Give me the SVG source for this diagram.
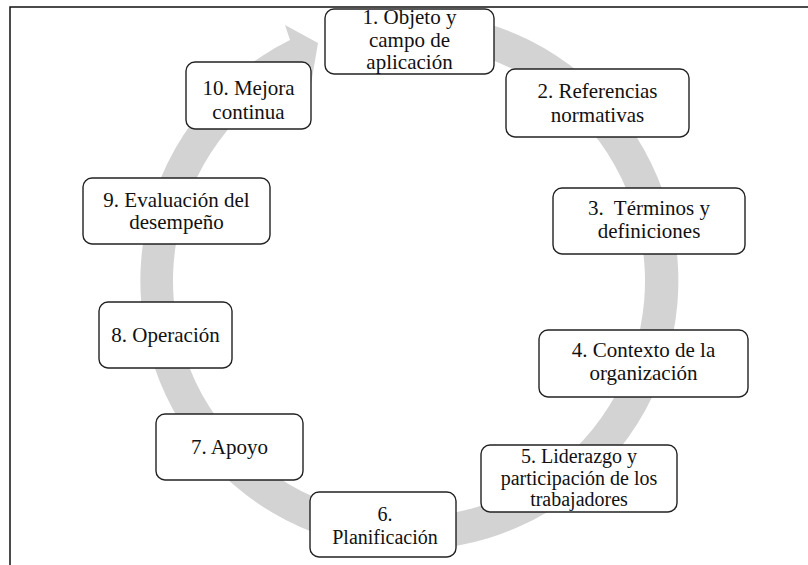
<svg xmlns="http://www.w3.org/2000/svg" width="808" height="565" viewBox="0 0 808 565">
<style>
.box{fill:#fff;stroke:#222;stroke-width:1.4}
text{font-family:'Liberation Serif','Tinos','DejaVu Serif',serif;font-size:21px;fill:#111;text-anchor:middle}
.s{font-size:20px}
.frame{stroke:#111;stroke-width:1.5;fill:none}
</style>
<rect width="808" height="565" fill="#fff"/>
<path class="frame" d="M10,565 V7 H808"/>
<g id="connectors">
<path d="M437.1,13.5 A269,269 0 1 1 290,40 L285,25 L318,43 L311.2,82.9 L304.5,69.4 A236,236 0 1 0 433.7,46.3 Z" fill="#d3d3d3"/>
</g>
<g id="n1"><rect class="box" x="325" y="9" width="169" height="65" rx="9"/>
<text x="409.5" y="24">1. Objeto y</text><text x="409.5" y="47">campo de</text><text x="409.5" y="69">aplicación</text></g>
<g id="n2"><rect class="box" x="506" y="69" width="183" height="68" rx="9"/>
<text x="597.5" y="98">2. Referencias</text><text x="597.5" y="122">normativas</text></g>
<g id="n3"><rect class="box" x="553" y="188" width="192" height="66" rx="9"/>
<text x="649" y="215" xml:space="preserve">3.  Términos y</text><text x="649" y="238">definiciones</text></g>
<g id="n4"><rect class="box" x="539" y="330" width="209" height="67" rx="9"/>
<text x="643.5" y="357">4. Contexto de la</text><text x="643.5" y="380">organización</text></g>
<g id="n5"><rect class="box" x="481" y="445" width="196" height="67" rx="9"/>
<text class="s" x="579" y="463">5. Liderazgo y</text><text class="s" x="579" y="485">participación de los</text><text class="s" x="579" y="506">trabajadores</text></g>
<g id="n6"><rect class="box" x="310" y="492" width="146" height="65" rx="9"/>
<text class="s" x="385" y="521">6.</text><text class="s" x="385" y="544">Planificación</text></g>
<g id="n7"><rect class="box" x="156" y="414" width="147" height="66" rx="9"/>
<text x="229.5" y="454">7. Apoyo</text></g>
<g id="n8"><rect class="box" x="99" y="302" width="133" height="66" rx="9"/>
<text x="165.5" y="342">8. Operación</text></g>
<g id="n9"><rect class="box" x="83" y="178" width="187" height="66" rx="9"/>
<text x="176.5" y="207">9. Evaluación del</text><text x="176.5" y="229">desempeño</text></g>
<g id="n10"><rect class="box" x="186" y="62" width="125" height="67" rx="9"/>
<text x="248.5" y="95">10. Mejora</text><text x="248.5" y="119">continua</text></g>
</svg>
